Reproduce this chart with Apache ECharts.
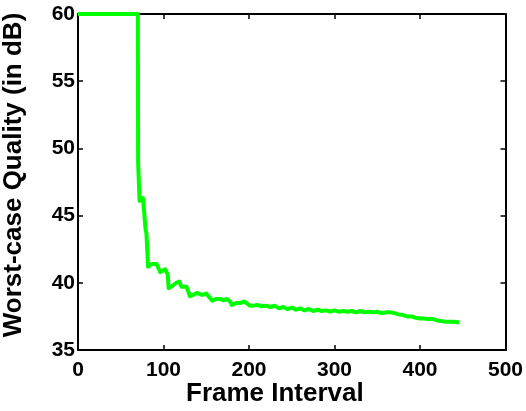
<!DOCTYPE html>
<html><head><meta charset="utf-8">
<script src="https://cdn.jsdelivr.net/npm/echarts@6/dist/echarts.min.js"></script>
<style>html,body{margin:0;padding:0;background:#fff}#c{width:526px;height:411px}</style>
</head><body><div id="c"></div>
<script>
const xTitle = "Frame Interval";
const yTitle = "Worst-case Quality (in dB)";
const xTicks = [0, 100, 200, 300, 400, 500];
const yTicks = [35, 40, 45, 50, 55, 60];
const frameInterval = [0, 70, 70.3, 71.5, 72, 73, 76, 78, 79, 80, 82, 83, 86, 88, 92, 96, 99, 102, 105, 106, 111, 115, 118.5, 121, 123, 127, 131, 135, 139, 145, 150, 154, 157, 162, 166, 170, 174, 178, 180, 185, 190, 194, 197, 201, 205, 210, 215, 220, 225, 230, 235, 240, 245, 250, 255, 260, 265, 270, 275, 280, 285, 290, 295, 300, 305, 310, 315, 320, 325, 330, 335, 340, 345, 350, 355, 360, 365, 370, 375, 380, 385, 390, 395, 400, 405, 410, 415, 420, 425, 430, 435, 440, 446];
const worstQuality = [60, 60, 49, 49, 46.1, 46.1, 46.3, 46.4, 44, 43.7, 41.2, 41.2, 41.4, 41.3, 41.4, 40.8, 40.9, 41.0, 40.6, 39.6, 39.8, 40.0, 40.1, 39.7, 39.6, 39.7, 39.0, 39.1, 39.25, 39.1, 39.2, 38.9, 38.67, 38.8, 38.8, 38.7, 38.8, 38.6, 38.35, 38.5, 38.5, 38.6, 38.5, 38.3, 38.3, 38.35, 38.25, 38.3, 38.2, 38.3, 38.1, 38.2, 38.05, 38.15, 38.0, 38.1, 37.95, 38.05, 37.9, 38.0, 37.9, 37.95, 37.85, 37.95, 37.85, 37.9, 37.85, 37.9, 37.8, 37.9, 37.8, 37.85, 37.8, 37.85, 37.75, 37.8, 37.8, 37.75, 37.65, 37.6, 37.5, 37.5, 37.4, 37.35, 37.35, 37.3, 37.3, 37.2, 37.15, 37.1, 37.1, 37.1, 37.05];

const FONT = '"Liberation Sans", Arial, sans-serif';
const chart = echarts.init(document.getElementById('c'), null, {renderer: 'canvas'});
const axisLine = {show: true, onZero: false, lineStyle: {color: '#000', width: 2}};
const tick = {show: true, inside: true, length: 5, lineStyle: {color: '#000', width: 1.5}};
const lbl = {color: '#000', fontFamily: FONT, fontWeight: 'bold', fontSize: 21};
chart.setOption({
  animation: false,
  backgroundColor: '#fff',
  grid: {left: 78, right: 20, top: 14, bottom: 61, containLabel: false},
  xAxis: [
    {type: 'value', min: xTicks[0], max: xTicks[xTicks.length-1], interval: 100,
     axisLine, axisTick: tick, splitLine: {show: false},
     axisLabel: Object.assign({margin: 10, showMinLabel: true, showMaxLabel: true}, lbl)},
    {type: 'value', position: 'top', min: xTicks[0], max: xTicks[xTicks.length-1], interval: 100,
     axisLine, axisTick: tick, splitLine: {show: false}, axisLabel: {show: false}}
  ],
  yAxis: [
    {type: 'value', min: yTicks[0], max: yTicks[yTicks.length-1], interval: 5,
     axisLine, axisTick: tick, splitLine: {show: false},
     axisLabel: Object.assign({margin: 3}, lbl)},
    {type: 'value', position: 'right', min: yTicks[0], max: yTicks[yTicks.length-1], interval: 5,
     axisLine, axisTick: tick, splitLine: {show: false}, axisLabel: {show: false}}
  ],
  graphic: [
    {type: 'text', left: 186, top: 381, style: {text: xTitle, font: 'bold 26px ' + FONT, fill: '#000'}},
    {type: 'text', x: 14, y: 175, rotation: Math.PI/2,
     style: {text: yTitle, font: 'bold 26px ' + FONT, fill: '#000', align: 'center', verticalAlign: 'middle'}}
  ],
  series: [{
    type: 'line', xAxisIndex: 0, yAxisIndex: 0,
    data: frameInterval.map((x, i) => [x, worstQuality[i]]),
    showSymbol: false, symbol: 'none', clip: false,
    lineStyle: {color: '#00ff00', width: 4, join: 'round'}
  }]
});
</script></body></html>
